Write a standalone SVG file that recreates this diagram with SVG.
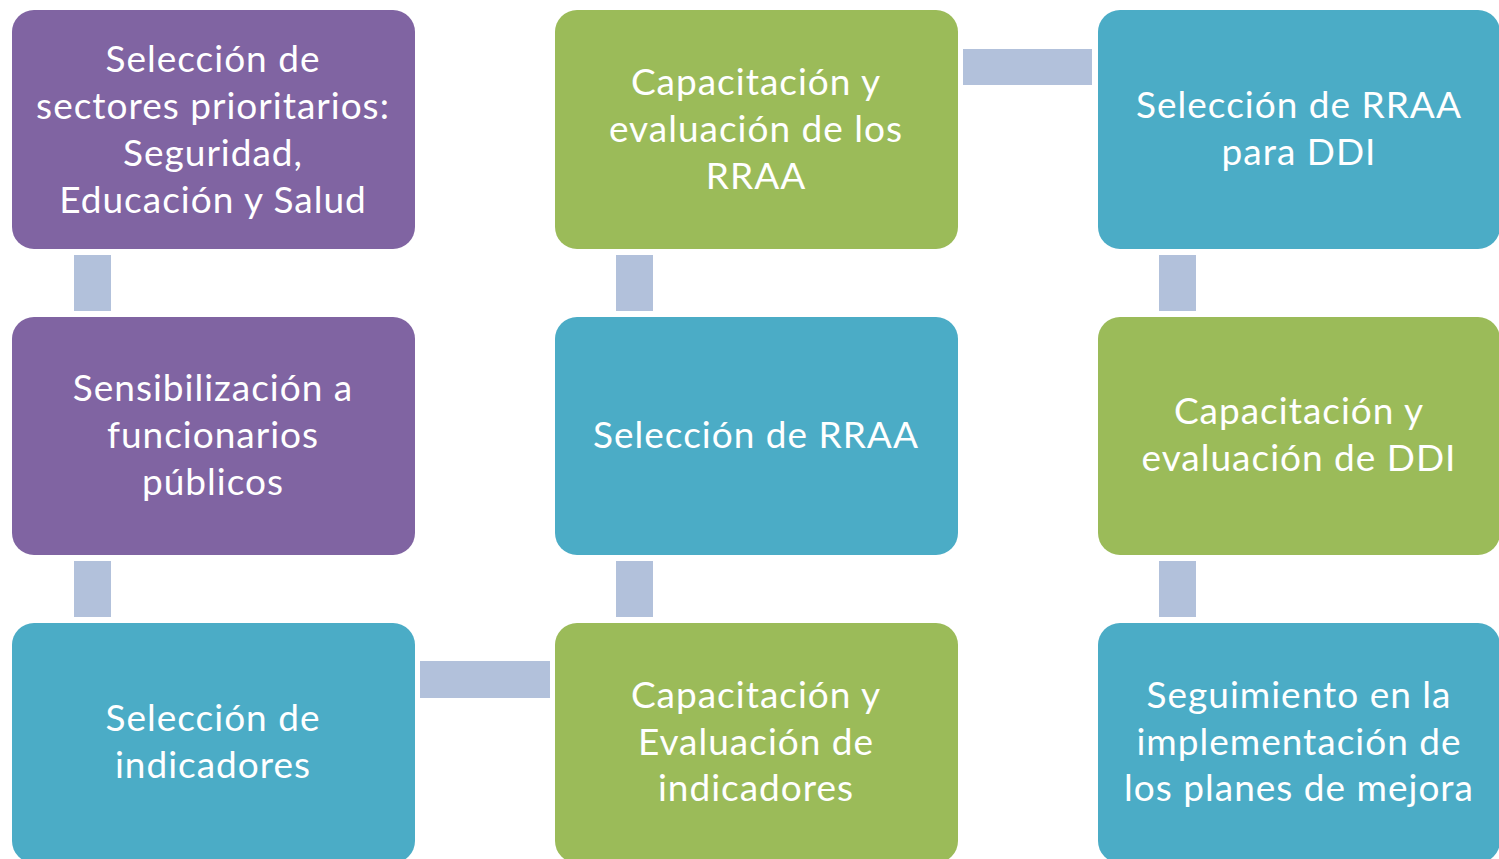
<svg xmlns="http://www.w3.org/2000/svg" width="1499" height="859" viewBox="0 0 1499 859">
<style>
.box{stroke:none}
.p{fill:#8064A2}
.g{fill:#9BBB59}
.b{fill:#4BACC6}
.c{fill:#B2C1DB}
text{font-family:Lato,"Liberation Sans",sans-serif;font-size:37px;letter-spacing:1px;fill:#FFFFFF;text-anchor:middle}
</style>
<g id="connectors">
<rect class="c" x="74" y="255" width="37" height="56"/>
<rect class="c" x="74" y="561" width="37" height="56"/>
<rect class="c" x="420" y="661" width="130" height="37"/>
<rect class="c" x="616" y="561" width="37" height="56"/>
<rect class="c" x="616" y="255" width="37" height="56"/>
<rect class="c" x="963" y="49" width="129" height="36"/>
<rect class="c" x="1159" y="255" width="37" height="56"/>
<rect class="c" x="1159" y="561" width="37" height="56"/>
</g>
<g id="n1"><rect class="box p" x="12" y="10" width="403" height="239" rx="22"/>
<text x="213" y="72">Selección de</text><text x="213" y="119">sectores prioritarios:</text><text x="213" y="166">Seguridad,</text><text x="213" y="213">Educación y Salud</text></g>
<g id="n2"><rect class="box p" x="12" y="317" width="403" height="238" rx="22"/>
<text x="213" y="401">Sensibilización a</text><text x="213" y="448">funcionarios</text><text x="213" y="495">públicos</text></g>
<g id="n3"><rect class="box b" x="12" y="623" width="403" height="240" rx="22"/>
<text x="213" y="731">Selección de</text><text x="213" y="778">indicadores</text></g>
<g id="n4"><rect class="box g" x="555" y="623" width="403" height="240" rx="22"/>
<text x="756" y="708">Capacitación y</text><text x="756" y="755">Evaluación de</text><text x="756" y="801">indicadores</text></g>
<g id="n5"><rect class="box b" x="555" y="317" width="403" height="238" rx="22"/>
<text x="756" y="448">Selección de RRAA</text></g>
<g id="n6"><rect class="box g" x="555" y="10" width="403" height="239" rx="22"/>
<text x="756" y="95">Capacitación y</text><text x="756" y="142">evaluación de los</text><text x="756" y="189">RRAA</text></g>
<g id="n7"><rect class="box b" x="1098" y="10" width="402" height="239" rx="22"/>
<text x="1299" y="118">Selección de RRAA</text><text x="1299" y="165">para DDI</text></g>
<g id="n8"><rect class="box g" x="1098" y="317" width="402" height="238" rx="22"/>
<text x="1299" y="424">Capacitación y</text><text x="1299" y="471">evaluación de DDI</text></g>
<g id="n9"><rect class="box b" x="1098" y="623" width="402" height="240" rx="22"/>
<text x="1299" y="708">Seguimiento en la</text><text x="1299" y="755">implementación de</text><text x="1299" y="801">los planes de mejora</text></g>
</svg>
